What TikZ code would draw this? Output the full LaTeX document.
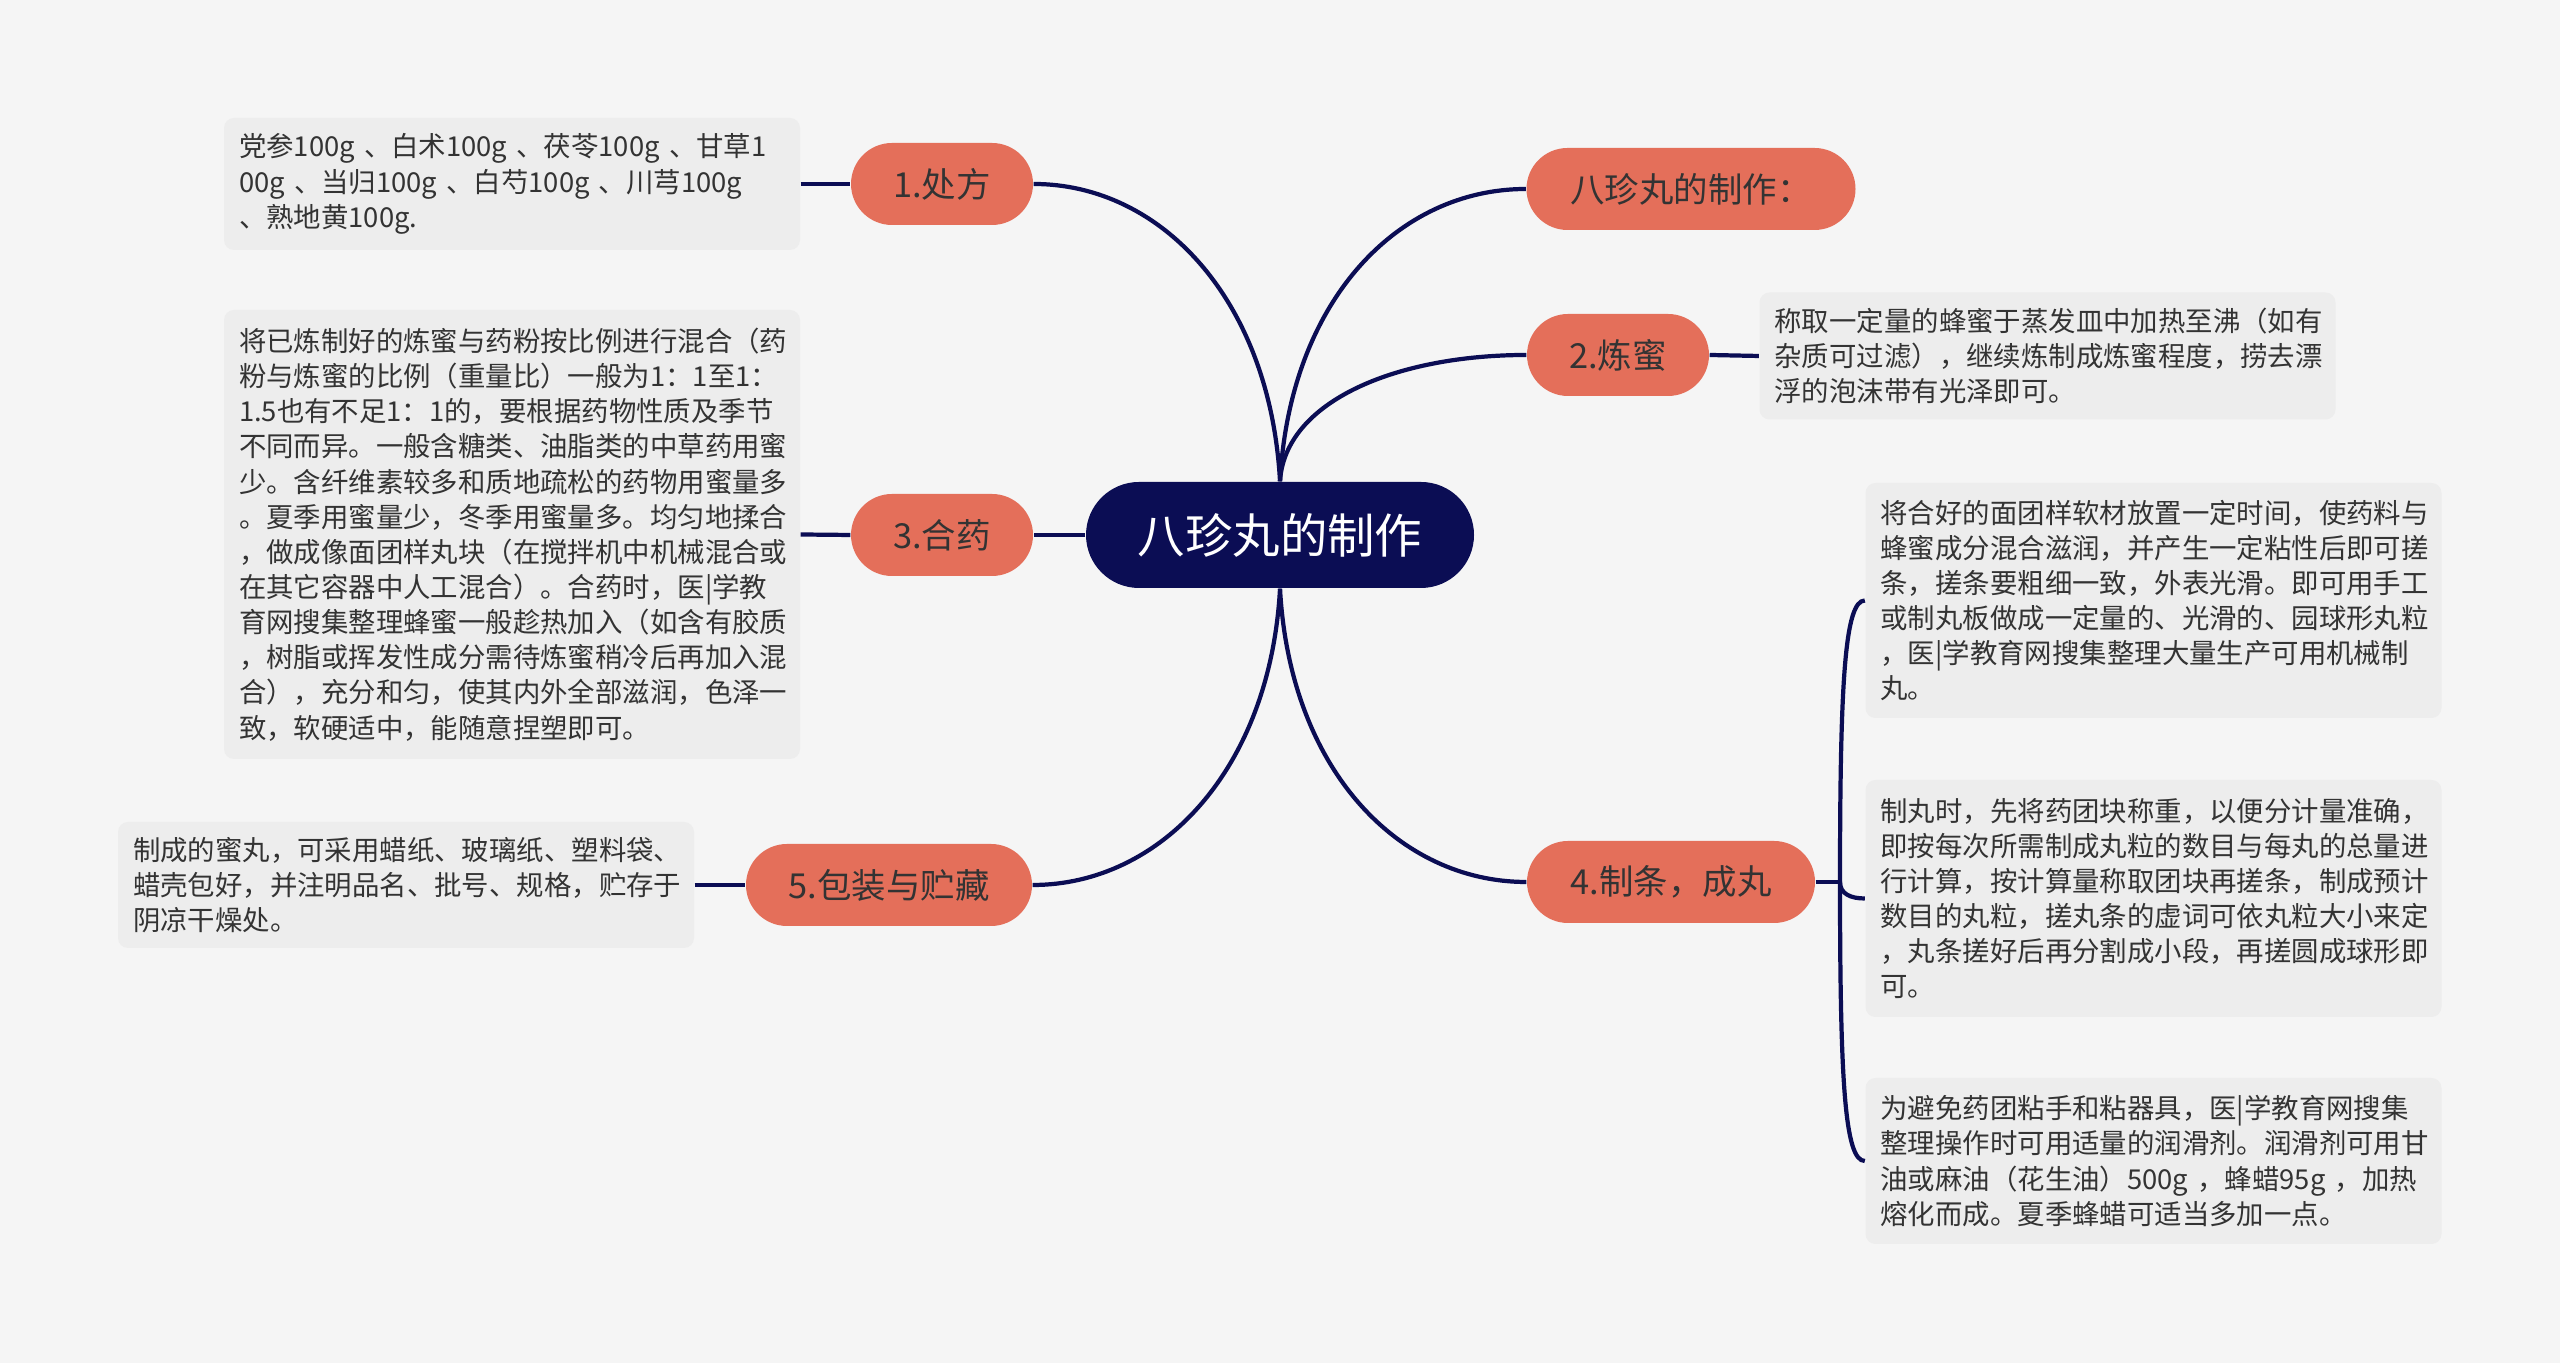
\documentclass[tikz,border=0pt]{standalone}
\usepackage{fontspec}
\setmainfont{Noto Sans CJK SC}
\definecolor{bgcol}{HTML}{F5F5F5}
\definecolor{rootcol}{HTML}{0B0D54}
\definecolor{branchcol}{HTML}{E46F5A}
\definecolor{boxcol}{HTML}{EDEDED}
\definecolor{txtcol}{HTML}{333333}
\tikzset{
	rootbox/.style={fill=rootcol, text=white, rounded corners=0.53cm, minimum width=3.88cm, minimum height=1.06cm, font=\fontsize{13.5pt}{16pt}\selectfont},
	branchbox/.style={fill=branchcol, text=txtcol, rounded corners=0.41cm, minimum height=0.82cm, font=\fontsize{9.8pt}{12pt}\selectfont},
	notebox/.style={fill=boxcol, text=txtcol, rounded corners=0.1cm, text width=5.46cm, inner xsep=0.15cm, align=left, font=\fontsize{7.8pt}{10pt}\selectfont},
	link/.style={draw=rootcol, line width=1.2pt}
}
\begin{document}
\begin{tikzpicture}
	% Hintergrund
	\useasboundingbox (0,0) rectangle (25.6,13.63);
	\fill[bgcol] (0,0) rectangle (25.6,13.63);
	% Mitte
	\node[rootbox] (root) at (12.80, 8.28) {八珍丸的制作};
	% Zweige
	\node[branchbox, minimum width=1.82cm] (b1) at (9.42, 11.79) {1.处方};
	\node[branchbox, minimum width=3.29cm] (bt) at (16.91, 11.74) {八珍丸的制作：};
	\node[branchbox, minimum width=1.82cm] (b2) at (16.18, 10.08) {2.炼蜜};
	\node[branchbox, minimum width=1.82cm] (b3) at (9.42, 8.28) {3.合药};
	\node[branchbox, minimum width=2.88cm] (b4) at (16.71, 4.81) {4.制条，成丸};
	\node[branchbox, minimum width=2.86cm] (b5) at (8.89, 4.78) {5.包装与贮藏};
	% Texte
	\node[notebox, minimum height=1.32cm] (t1) at (5.12, 11.79) {党参100g~、白术100g~、茯苓100g~、甘草1\\00g~、当归100g~、白芍100g~、川芎100g\\、熟地黄100g.};
	\node[notebox, minimum height=4.49cm] (t3) at (5.12, 8.285) {将已炼制好的炼蜜与药粉按比例进行混合（药\\粉与炼蜜的比例（重量比）一般为1：1至1：\\1.5也有不足1：1的，要根据药物性质及季节\\不同而异。一般含糖类、油脂类的中草药用蜜\\少。含纤维素较多和质地疏松的药物用蜜量多\\。夏季用蜜量少，冬季用蜜量多。均匀地揉合\\，做成像面团样丸块（在搅拌机中机械混合或\\在其它容器中人工混合）。合药时，医|学教\\育网搜集整理蜂蜜一般趁热加入（如含有胶质\\，树脂或挥发性成分需待炼蜜稍冷后再加入混\\合），充分和匀，使其内外全部滋润，色泽一\\致，软硬适中，能随意捏塑即可。};
	\node[notebox, minimum height=1.26cm] (t5) at (4.06, 4.78) {制成的蜜丸，可采用蜡纸、玻璃纸、塑料袋、\\蜡壳包好，并注明品名、批号、规格，贮存于\\阴凉干燥处。};
	\node[notebox, minimum height=1.27cm] (t2) at (20.475, 10.07) {称取一定量的蜂蜜于蒸发皿中加热至沸（如有\\杂质可过滤），继续炼制成炼蜜程度，捞去漂\\浮的泡沫带有光泽即可。};
	\node[notebox, minimum height=2.35cm] (t4a) at (21.535, 7.625) {将合好的面团样软材放置一定时间，使药料与\\蜂蜜成分混合滋润，并产生一定粘性后即可搓\\条，搓条要粗细一致，外表光滑。即可用手工\\或制丸板做成一定量的、光滑的、园球形丸粒\\，医|学教育网搜集整理大量生产可用机械制\\丸。};
	\node[notebox, minimum height=2.37cm] (t4b) at (21.535, 4.645) {制丸时，先将药团块称重，以便分计量准确，\\即按每次所需制成丸粒的数目与每丸的总量进\\行计算，按计算量称取团块再搓条，制成预计\\数目的丸粒，搓丸条的虚词可依丸粒大小来定\\，丸条搓好后再分割成小段，再搓圆成球形即\\可。};
	\node[notebox, minimum height=1.66cm] (t4c) at (21.535, 2.02) {为避免药团粘手和粘器具，医|学教育网搜集\\整理操作时可用适量的润滑剂。润滑剂可用甘\\油或麻油（花生油）500g~，蜂蜡95g~，加热\\熔化而成。夏季蜂蜡可适当多加一点。};
	% Verbindungen Mitte
	\draw[link] (root.north) .. controls +(-0.1,1.82) and +(1.27,0) .. (b1.east);
	\draw[link] (root.north) .. controls +(0.1,1.82) and +(-1.27,0) .. (bt.west);
	\draw[link] (root.north) .. controls +(0.05,0.8) and +(-1.3,0) .. (b2.west);
	\draw[link] (root.west) -- (b3.east);
	\draw[link] (root.south) .. controls +(0.1,-1.82) and +(-1.27,0) .. (b4.west);
	\draw[link] (root.south) .. controls +(-0.1,-1.82) and +(1.27,0) .. (b5.east);
	% Verbindungen Texte
	\draw[link] (t1.east) -- (b1.west);
	\draw[link] (t3.east) -- (b3.west);
	\draw[link] (t5.east) -- (b5.west);
	\draw[link] (b2.east) -- (t2.west);
	\coordinate (fork) at (18.40, 4.81);
	\draw[link] (b4.east) -- (fork);
	\draw[link] (fork) .. controls +(0,2.0) and +(-0.2,0) .. (t4a.west);
	\draw[link] (fork) .. controls +(0,-0.12) and +(-0.14,0) .. (t4b.west);
	\draw[link] (fork) .. controls +(0,-2.0) and +(-0.2,0) .. (t4c.west);
\end{tikzpicture}
\end{document}
